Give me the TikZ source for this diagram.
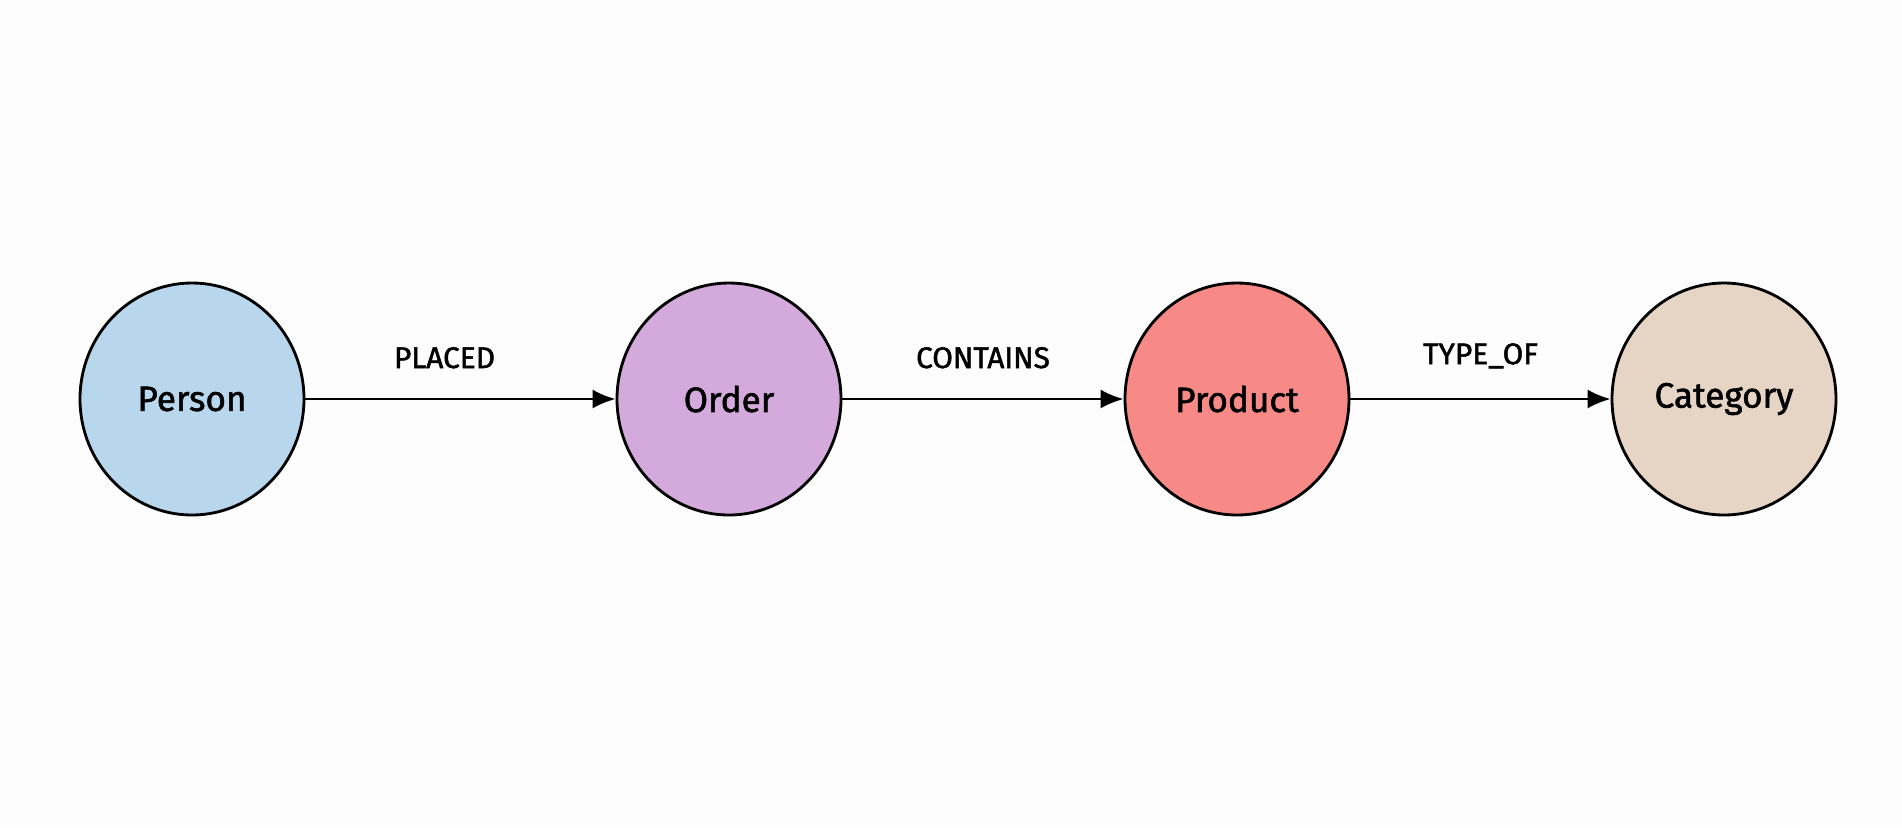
\documentclass[tikz,border=0pt]{standalone}
\usepackage{fontspec}
\setmainfont{Fira Sans}
\newfontfamily\namefont{Fira Sans}[FakeBold=1.6]
\usepackage{xcolor}
\usepackage{tikz}
\usetikzlibrary{arrows.meta,shapes.geometric}

\definecolor{bgfill}{HTML}{FDFDFD}
\definecolor{personfill}{HTML}{B8D6EC}
\definecolor{orderfill}{HTML}{D4A9DC}
\definecolor{productfill}{HTML}{F78A87}
\definecolor{categoryfill}{HTML}{E6D5C5}

\tikzset{
    entity/.style={ellipse,draw,line width=0.8pt,minimum width=2.24cm,minimum height=2.32cm,inner sep=0pt,font=\namefont\fontsize{10}{12}\selectfont},
    rel/.style={-{Latex[length=2.3mm,width=1.9mm]},line width=0.75pt},
    rellabel/.style={above=5pt,midway,font=\namefont\fontsize{8.5}{10}\selectfont}
}

\begin{document}
\begin{tikzpicture}
        \fill[bgfill] (0,0) rectangle (19.02,8.27);
        \useasboundingbox (0,0) rectangle (19.02,8.27);
        % Nodes
        \node[entity,fill=personfill] (person) at (1.92,4.28) {Person};
        \node[entity,fill=orderfill] (order) at (7.29,4.28) {Order};
        \node[entity,fill=productfill] (product) at (12.37,4.28) {Product};
        \node[entity,fill=categoryfill] (category) at (17.24,4.28) {Category};
        % Edges
        \draw[rel] (person) -- (order) node[rellabel,xshift=-0.16cm] {PLACED};
        \draw[rel] (order) -- (product) node[rellabel] {CONTAINS};
        \draw[rel] (product) -- (category) node[rellabel] {TYPE\_OF};
    \end{tikzpicture}
\end{document}
